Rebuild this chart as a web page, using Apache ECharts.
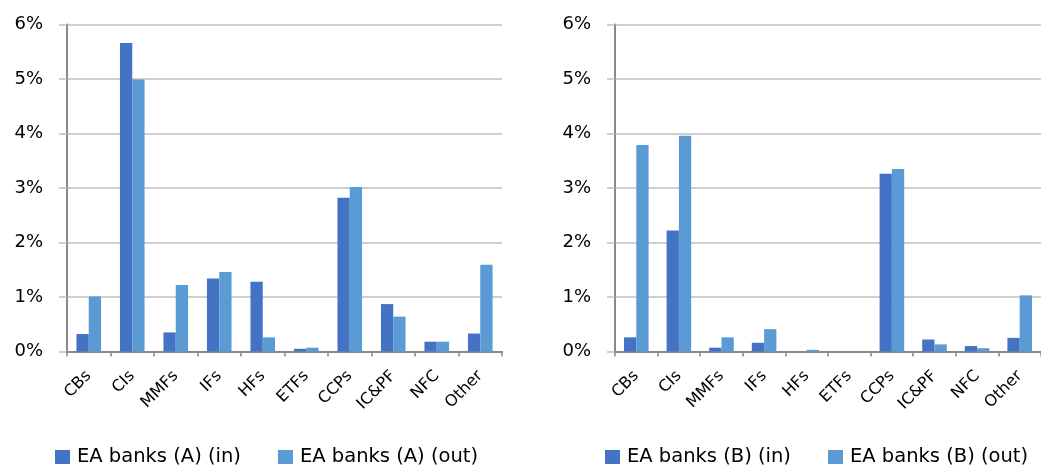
<!DOCTYPE html>
<html>
<head>
<meta charset="utf-8">
<script src="https://cdn.jsdelivr.net/npm/echarts@6/dist/echarts.min.js"></script>
<style>
html,body{margin:0;padding:0;background:#fff;}
#c{width:1041px;height:466px;}
</style>
</head>
<body>
<div id="c"></div>
<script>
const categories = ['CBs','CIs','MMFs','IFs','HFs','ETFs','CCPs','IC&PF','NFC','Other'];
const yTicks = [0,1,2,3,4,5,6];
const seriesNames = ['EA banks (A) (in)','EA banks (A) (out)','EA banks (B) (in)','EA banks (B) (out)'];
const aIn  = [0.32, 5.66, 0.35, 1.34, 1.28, 0.05, 2.82, 0.87, 0.18, 0.33];
const aOut = [1.01, 4.99, 1.22, 1.46, 0.26, 0.07, 3.02, 0.64, 0.18, 1.59];
const bIn  = [0.26, 2.22, 0.07, 0.16, 0.00, 0.00, 3.26, 0.22, 0.10, 0.25];
const bOut = [3.79, 3.96, 0.26, 0.41, 0.03, 0.00, 3.35, 0.13, 0.06, 1.03];

const FONT = 'DejaVu Sans';
const C_IN = '#4472C4', C_OUT = '#5B9BD5';
const AXIS = '#898989', GRID = '#BFBFBF';

function xAxis(gi){
  return {
    type:'category', gridIndex:gi, data:categories,
    axisLine:{lineStyle:{color:AXIS,width:2}},
    axisTick:{show:true,length:5,lineStyle:{color:AXIS,width:1.5}},
    axisLabel:{rotate:45,margin:22,fontSize:16,color:'#000',fontFamily:FONT,interval:0}
  };
}
function yAxis(gi){
  return {
    type:'value', gridIndex:gi, min:yTicks[0], max:yTicks[yTicks.length-1], interval:1,
    axisLine:{show:true,lineStyle:{color:AXIS,width:2}},
    axisTick:{show:true,length:8,lineStyle:{color:GRID,width:1.5}},
    splitLine:{show:true,lineStyle:{color:GRID,width:1.5}},
    axisLabel:{formatter:'{value}%',margin:24,fontSize:18,color:'#000',fontFamily:FONT}
  };
}
function bar(name,data,gi,color){
  return {name:name,type:'bar',xAxisIndex:gi,yAxisIndex:gi,data:data,
    barWidth:12.3,barGap:'0%',itemStyle:{color:color},emphasis:{disabled:true}};
}
function legend(names,left){
  return {data:names,left:left,top:447,padding:0,itemWidth:15,itemHeight:14,itemGap:37,icon:'rect',
    textStyle:{fontSize:19.5,color:'#000',fontFamily:FONT,padding:[0,0,0,2]}};
}
const chart = echarts.init(document.getElementById('c'),null,{renderer:'canvas'});
chart.setOption({
  animation:false,
  grid:[
    {left:67,top:24.5,width:435,height:327},
    {left:615,top:24.5,width:434,height:327}
  ],
  xAxis:[xAxis(0),xAxis(1)],
  yAxis:[yAxis(0),yAxis(1)],
  legend:[legend([seriesNames[0],seriesNames[1]],55), legend([seriesNames[2],seriesNames[3]],605)],
  series:[
    bar(seriesNames[0],aIn,0,C_IN),
    bar(seriesNames[1],aOut,0,C_OUT),
    bar(seriesNames[2],bIn,1,C_IN),
    bar(seriesNames[3],bOut,1,C_OUT)
  ]
});
</script>
</body>
</html>
